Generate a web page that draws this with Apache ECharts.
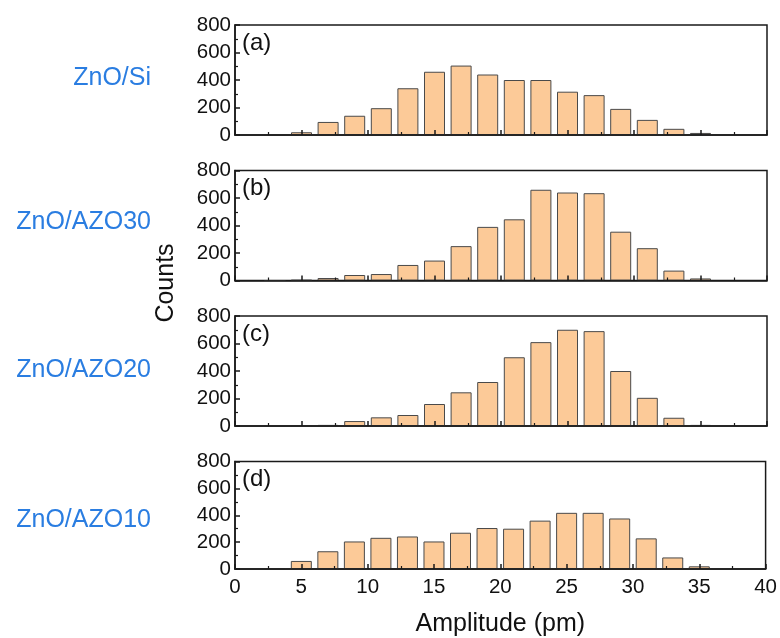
<!DOCTYPE html>
<html>
<head>
<meta charset="utf-8">
<script src="https://cdn.jsdelivr.net/npm/echarts@6/dist/echarts.min.js"></script>
<style>html,body{margin:0;padding:0;background:#fff}#c{width:780px;height:638px}</style>
</head>
<body>
<div id="c"></div>
<script>
// bin centres (pm)
const binCenters = [3, 5, 7, 9, 11, 13, 15, 17, 19, 21, 23, 25, 27, 29, 31, 33, 35];
// counts per bin
const countsZnOSi    = [0, 20, 95, 140, 195, 340, 460, 505, 440, 400, 400, 315, 290, 190, 110, 45, 15];
const countsAZO30    = [0, 4, 18, 40, 47, 113, 145, 250, 390, 445, 660, 640, 635, 355, 235, 72, 15];
const countsAZO20    = [0, 3, 8, 36, 63, 80, 160, 245, 320, 500, 610, 700, 690, 400, 205, 60, 8];
const countsAZO10    = [3, 60, 132, 205, 232, 242, 205, 270, 305, 300, 360, 418, 418, 376, 228, 86, 20];
const sampleNames = ['ZnO/Si', 'ZnO/AZO30', 'ZnO/AZO20', 'ZnO/AZO10'];
const panelTags = ['(a)', '(b)', '(c)', '(d)'];
const yTicks = [0, 200, 400, 600, 800];
const xTicks = [0, 5, 10, 15, 20, 25, 30, 35, 40];

const allCounts = [countsZnOSi, countsAZO30, countsAZO20, countsAZO10];
const FONT = 'Arial, "Liberation Sans", sans-serif';
const tops = [25, 170.5, 316, 461.5];
const nameY = [78, 222, 370, 520];
const L = 235, W = 532, H = 110;

const grids = [], xAxes = [], yAxes = [], series = [], graphics = [];
allCounts.forEach((counts, i) => {
  grids.push({left: L, top: tops[i], width: W, height: H, show: true,
    borderColor: '#1a1a1a', borderWidth: 1.5, backgroundColor: 'transparent'});
  const last = i === 3;
  xAxes.push({
    type: 'value', gridIndex: i, min: xTicks[0], max: xTicks[xTicks.length - 1], interval: 5, z: 5,
    axisLine: {show: true, lineStyle: {color: '#1a1a1a', width: 1.5}},
    axisTick: {show: true, inside: true, length: 5, lineStyle: {color: '#1a1a1a', width: 1.5}},
    minorTick: {show: true, splitNumber: 2, length: 3, lineStyle: {color: '#1a1a1a', width: 1.2}},
    splitLine: {show: false},
    axisLabel: {show: last, fontFamily: FONT, fontSize: 20.5, color: '#111', margin: 8},
    name: last ? 'Amplitude (pm)' : '', nameLocation: 'middle', nameGap: 43,
    nameTextStyle: {fontFamily: FONT, fontSize: 25, color: '#111'}
  });
  yAxes.push({
    type: 'value', gridIndex: i, min: yTicks[0], max: yTicks[yTicks.length - 1], interval: 200, z: 5,
    axisLine: {show: true, lineStyle: {color: '#1a1a1a', width: 1.5}},
    axisTick: {show: true, inside: true, length: 5, lineStyle: {color: '#1a1a1a', width: 1.5}},
    minorTick: {show: true, splitNumber: 2, length: 3, lineStyle: {color: '#1a1a1a', width: 1.2}},
    splitLine: {show: false},
    axisLabel: {fontFamily: FONT, fontSize: 20.5, color: '#111', margin: 4}
  });
  series.push({
    type: 'bar', xAxisIndex: i, yAxisIndex: i, barWidth: 21,
    data: binCenters.map((c, k) => [c, counts[k]]),
    itemStyle: {color: '#FCCA98', borderColor: '#4a4a4a', borderWidth: 1},
    silent: true
  });
  graphics.push({type: 'text', x: 242, y: tops[i] + 18,
    style: {text: panelTags[i], font: '24px ' + FONT, fill: '#111',
      textAlign: 'left', textVerticalAlign: 'middle', verticalAlign: 'middle'}});
  graphics.push({type: 'text', x: 151, y: nameY[i],
    style: {text: sampleNames[i], font: '25px ' + FONT, fill: '#2a7de1',
      textAlign: 'right', align: 'right', textVerticalAlign: 'middle', verticalAlign: 'middle'}});
});
graphics.push({type: 'text', x: 166, y: 283, rotation: Math.PI / 2,
  style: {text: 'Counts', font: '25px ' + FONT, fill: '#111',
    textAlign: 'center', align: 'center', textVerticalAlign: 'middle', verticalAlign: 'middle'}});

const chart = echarts.init(document.getElementById('c'), null, {renderer: 'canvas'});
chart.setOption({
  animation: false,
  grid: grids, xAxis: xAxes, yAxis: yAxes, series: series, graphic: graphics
});
</script>
</body>
</html>
